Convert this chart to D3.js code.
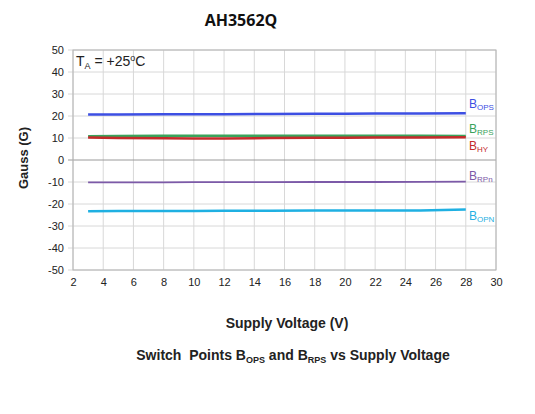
<!DOCTYPE html>
<html><head><meta charset="utf-8">
<script src="https://cdn.jsdelivr.net/npm/d3@7"></script>
<style>body{margin:0;background:#fff}svg{display:block}</style>
</head><body>
<svg id="c" width="535" height="414"></svg>
<script>
const voltage = [3, 5, 8, 10, 12, 15, 18, 20, 22, 25, 28];
const bops = [20.7, 20.7, 20.8, 20.8, 20.8, 20.9, 21.0, 21.0, 21.1, 21.1, 21.2];
const brps = [10.8, 10.9, 11.0, 11.0, 11.0, 11.0, 11.0, 11.0, 11.0, 11.0, 10.9];
const bhy  = [10.2, 10.0, 9.9, 9.8, 9.8, 10.0, 10.1, 10.1, 10.2, 10.2, 10.3];
const brpn = [-10.2, -10.2, -10.2, -10.1, -10.1, -10.1, -10.0, -10.0, -10.0, -9.9, -9.8];
const bopn = [-23.3, -23.2, -23.2, -23.2, -23.1, -23.1, -23.0, -23.0, -23.0, -22.9, -22.5];
const xTicks = [2,4,6,8,10,12,14,16,18,20,22,24,26,28,30];
const yTicks = [50,40,30,20,10,0,-10,-20,-30,-40,-50];
const series = [
  {name:"OPS", values:bops, color:"#3d4fe3", labelY:23.6, w:2.5},
  {name:"RPS", values:brps, color:"#3aa35b", labelY:12.3, w:2.5},
  {name:"HY",  values:bhy,  color:"#c42b2b", labelY:4.5, w:2.5},
  {name:"RPn", values:brpn, color:"#7c5aa8", labelY:-9.1, w:1.8},
  {name:"OPN", values:bopn, color:"#1fb0e2", labelY:-27.3, w:2.5}
];
const drawOrder = [0,1,3,4,2];

const svg = d3.select("#c");
const L=73, R=496, T=50, B=270;
const x = d3.scaleLinear().domain([2,30]).range([L,R]);
const y = d3.scaleLinear().domain([-50,50]).range([B,T]);
const font = "Liberation Sans, Arial, sans-serif";

// grid
svg.append("g").selectAll("line").data(xTicks).join("line")
  .attr("x1",d=>x(d)).attr("x2",d=>x(d)).attr("y1",T).attr("y2",B)
  .attr("stroke","#d8d8d8").attr("stroke-width",1);
svg.append("g").selectAll("line").data(yTicks).join("line")
  .attr("x1",L-5).attr("x2",R).attr("y1",d=>y(d)).attr("y2",d=>y(d))
  .attr("stroke",d=>d===0?"#9a9a9a":"#d8d8d8").attr("stroke-width",1);
svg.append("rect").attr("x",L).attr("y",T).attr("width",R-L).attr("height",B-T)
  .attr("fill","none").attr("stroke","#b4b4b4");

// axes labels
const fmt = d => String(d);
const xa = svg.append("g").attr("transform",`translate(0,${B})`)
  .call(d3.axisBottom(x).tickValues(xTicks).tickFormat(fmt).tickSize(0).tickPadding(8));
xa.select(".domain").remove();
xa.selectAll("text").attr("font-family",font).attr("font-size",11).attr("fill","#222");
const ya = svg.append("g").attr("transform",`translate(${L},0)`)
  .call(d3.axisLeft(y).tickValues(yTicks).tickFormat(fmt).tickSize(0).tickPadding(9));
ya.select(".domain").remove();
ya.selectAll("text").attr("font-family",font).attr("font-size",11).attr("fill","#222");

// lines
const line = d3.line().x((d,i)=>x(voltage[i])).y(d=>y(d));
drawOrder.forEach(k=>{
  const s=series[k];
  svg.append("path").datum(s.values).attr("d",line)
    .attr("fill","none").attr("stroke",s.color).attr("stroke-width",s.w);
});

// series labels
series.forEach(s=>{
  const t = svg.append("text").attr("x",469).attr("y",y(s.labelY))
    .attr("font-family",font).attr("font-size",12).attr("fill",s.color);
  t.append("tspan").text("B");
  t.append("tspan").attr("font-size",8).attr("dy",2).text(s.name);
});

// TA label
const ta = svg.append("text").attr("x",76).attr("y",66).attr("font-family",font).attr("font-size",14).attr("fill","#222");
ta.append("tspan").text("T");
ta.append("tspan").attr("font-size",9).attr("dy",3).text("A");
ta.append("tspan").attr("dy",-3).text(" = +25");
ta.append("tspan").attr("font-size",9).attr("dy",-5).text("o");
ta.append("tspan").attr("dy",5).text("C");

// title
svg.append("text").attr("x",241).attr("y",26).attr("text-anchor","middle")
  .attr("font-family","Open Sans, sans-serif").attr("font-weight","bold").attr("font-size",16).attr("fill","#111").text("AH3562Q");
// axis titles
svg.append("text").attr("x",287).attr("y",328).attr("text-anchor","middle")
  .attr("font-family",font).attr("font-weight","bold").attr("font-size",14).attr("fill","#222").text("Supply Voltage (V)");
svg.append("text").attr("transform","translate(28,158) rotate(-90)").attr("text-anchor","middle")
  .attr("font-family",font).attr("font-weight","bold").attr("font-size",13).attr("fill","#222").text("Gauss (G)");
// caption
const cap = svg.append("text").attr("x",293).attr("y",360).attr("text-anchor","middle")
  .attr("font-family",font).attr("font-weight","bold").attr("font-size",14).attr("fill","#222")
  .style("white-space","pre");
cap.append("tspan").text("Switch  Points B");
cap.append("tspan").attr("font-size",9).attr("dy",3).text("OPS");
cap.append("tspan").attr("dy",-3).text(" and B");
cap.append("tspan").attr("font-size",9).attr("dy",3).text("RPS");
cap.append("tspan").attr("dy",-3).text(" vs Supply Voltage");
</script>
</body></html>
